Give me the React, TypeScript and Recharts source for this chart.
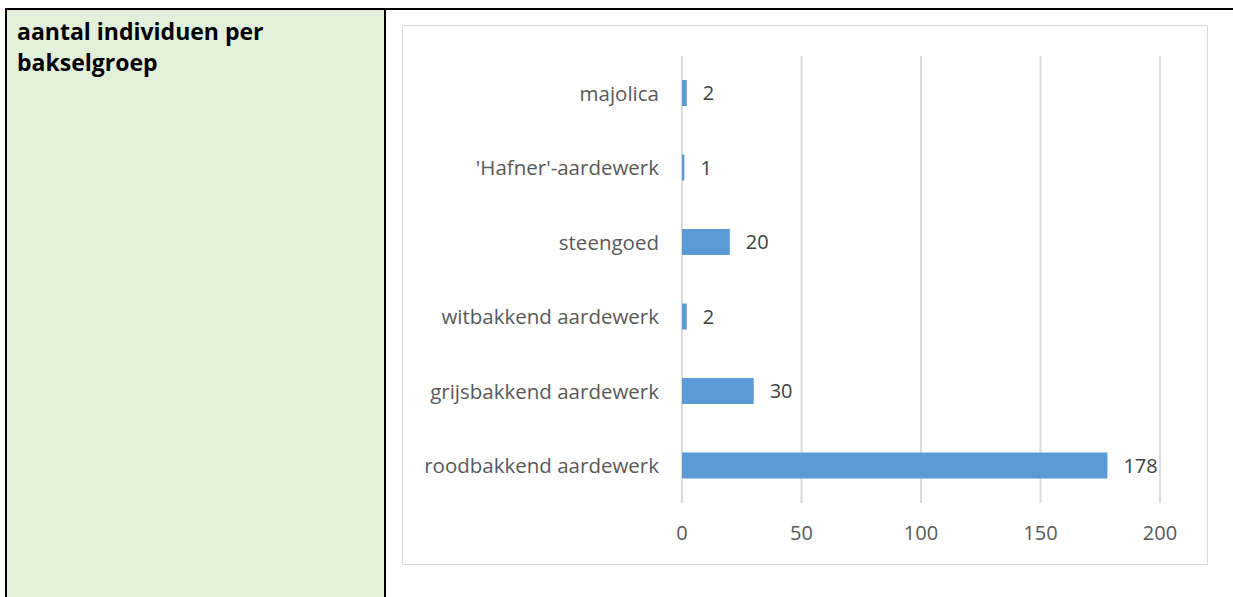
import { BarChart, Bar, XAxis, YAxis, CartesianGrid, LabelList } from 'recharts';

const categories = [
  'majolica',
  "'Hafner'-aardewerk",
  'steengoed',
  'witbakkend aardewerk',
  'grijsbakkend aardewerk',
  'roodbakkend aardewerk',
];
const counts = [2, 1, 20, 2, 30, 178];
const xTicks = [0, 50, 100, 150, 200];

const data = categories.map((name, i) => ({ name, value: counts[i] }));

const FONT = '"Open Sans", Lato, sans-serif';

export default function App() {
  return (
    <div style={{ position: 'absolute', left: 0, top: 0, width: 1233, height: 597, background: '#fff', overflow: 'hidden', fontFamily: FONT }}>
      {/* table borders */}
      <div style={{ position: 'absolute', left: 5, top: 8, width: 1228, height: 2, background: '#000' }} />
      <div style={{ position: 'absolute', left: 5, top: 8, width: 2, height: 589, background: '#000' }} />
      <div style={{ position: 'absolute', left: 7, top: 10, width: 377, height: 587, background: '#e2efda' }} />
      <div style={{ position: 'absolute', left: 384, top: 8, width: 2, height: 589, background: '#000' }} />

      {/* left cell heading */}
      <div style={{ position: 'absolute', left: 17, top: 16, width: 360, fontSize: 23, fontWeight: 700, lineHeight: '31px', color: '#000' }}>
        aantal individuen per
        <br />
        bakselgroep
      </div>

      {/* chart frame */}
      <div style={{ position: 'absolute', left: 402, top: 25, width: 804, height: 538, border: '1px solid #d9d9d9', background: '#fff' }}>
        <BarChart
          width={804}
          height={538}
          data={data}
          layout="vertical"
          margin={{ top: 30, right: 47, bottom: 0, left: 0 }}
        >
          <CartesianGrid horizontal={false} stroke="#dcdcdc" strokeWidth={2} />
          <XAxis
            type="number"
            domain={[0, 200]}
            ticks={xTicks}
            axisLine={false}
            tickLine={false}
            tickMargin={17}
            height={61}
            tick={{ fontSize: 20, fill: '#595959', fontFamily: FONT }}
          />
          <YAxis
            type="category"
            dataKey="name"
            width={279}
            axisLine={false}
            tickLine={false}
            tickMargin={17}
            tick={{ fontSize: 20.5, fill: '#595959', fontFamily: FONT }}
          />
          <Bar dataKey="value" fill="#5b9bd5" barSize={26} isAnimationActive={false}>
            <LabelList dataKey="value" position="right" offset={16} fill="#404040" fontSize={20} fontFamily={FONT} />
          </Bar>
        </BarChart>
      </div>
    </div>
  );
}
